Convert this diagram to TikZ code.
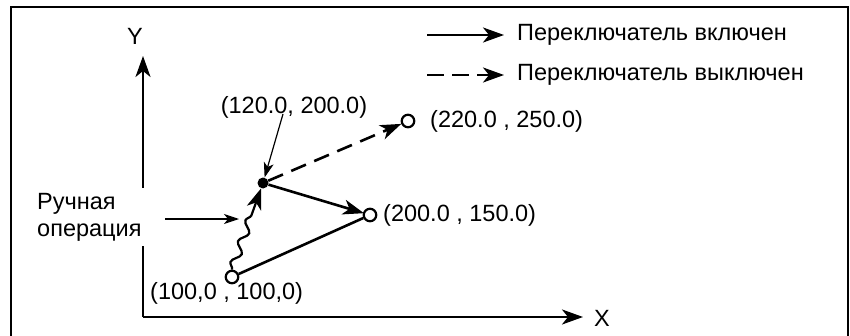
\documentclass[tikz,border=0pt]{standalone}
\usepackage{fontspec}
\setmainfont{Liberation Sans}
\usetikzlibrary{arrows.meta,decorations.pathmorphing}
\begin{document}
\begin{tikzpicture}[x=1pt,y=1pt,
  txt/.style={font=\fontsize{23.5}{27}\selectfont, inner sep=0pt},
  thick line/.style={line width=2.6pt},
  thin line/.style={line width=1.2pt},
  tip/.style={-{Stealth[length=21pt,width=15pt,inset=6pt]}},
  smalltip/.style={-{Stealth[length=15pt,width=10pt,inset=4pt]}},
  opendot/.style={circle, draw, line width=2.2pt, fill=white, minimum size=12.5pt, inner sep=0pt},
  fulldot/.style={circle, fill=black, minimum size=11pt, inner sep=0pt}]
\useasboundingbox (0,0) rectangle (850,335);
\fill[white] (0,0) rectangle (850,335);
% frame
\draw[line width=2pt] (11,-10) -- (11,328) -- (848,328) -- (848,-10);
% axes
\coordinate (O) at (143,18);
\coordinate (Ytip) at (143,279);
\coordinate (Xtip) at (583,18);
\draw[thick line, tip] (O) -- (Ytip);
\draw[thick line, tip] (O) -- (Xtip);
\node[txt] (ylab) at (135,299) {Y};
\node[txt] (xlab) at (602,17) {X};
% manual operation label (covers the Y axis)
\node[txt, fill=white, align=left, anchor=west, inner xsep=3pt, inner ysep=5pt] (man) at (34,118) {Ручная\\операция};
% points
\node[opendot] (P1) at (232,58) {};
\node[opendot] (P2) at (370,120) {};
\node[opendot] (P3) at (408,214) {};
\node[fulldot] (Pm) at (263,152) {};
% paths
\draw[thick line] (P1) -- (P2);
\draw[thick line, tip, shorten >=-1pt] (Pm) -- (P2);
\draw[thick line, tip, dash pattern=on 16pt off 9pt] (Pm) -- (P3);
\draw[line width=2.2pt, tip, decorate, decoration={snake, amplitude=4pt, segment length=22pt, post length=18pt}] (P1.north) -- (Pm);
% labels
\node[txt] (l120) at (294,228) {(120.0, 200.0)};
\node[txt, anchor=west] (l220) at (430,214) {(220.0 , 250.0)};
\node[txt, anchor=west] (l200) at (383,120) {(200.0 , 150.0)};
\node[txt, anchor=west] (l100) at (150,42) {(100,0 , 100,0)};
% pointers
\coordinate (c120) at (283,221);
\draw[thin line, smalltip] (c120) -- (Pm);
\coordinate (manstart) at (165,116);
\coordinate (manend) at (239,116);
\draw[thin line, smalltip] (manstart) -- (manend);
% legend
\coordinate (La1) at (427,300);
\coordinate (La2) at (504,300);
\coordinate (Lb1) at (427,260);
\coordinate (Lb2) at (504,260);
\draw[thick line, tip] (La1) -- (La2);
\draw[thick line, tip, dash pattern=on 17pt off 8pt] (Lb1) -- (Lb2);
\node[txt, anchor=west] (leg1) at (517,300) {Переключатель включен};
\node[txt, anchor=west] (leg2) at (517,260) {Переключатель выключен};
\end{tikzpicture}
\end{document}
